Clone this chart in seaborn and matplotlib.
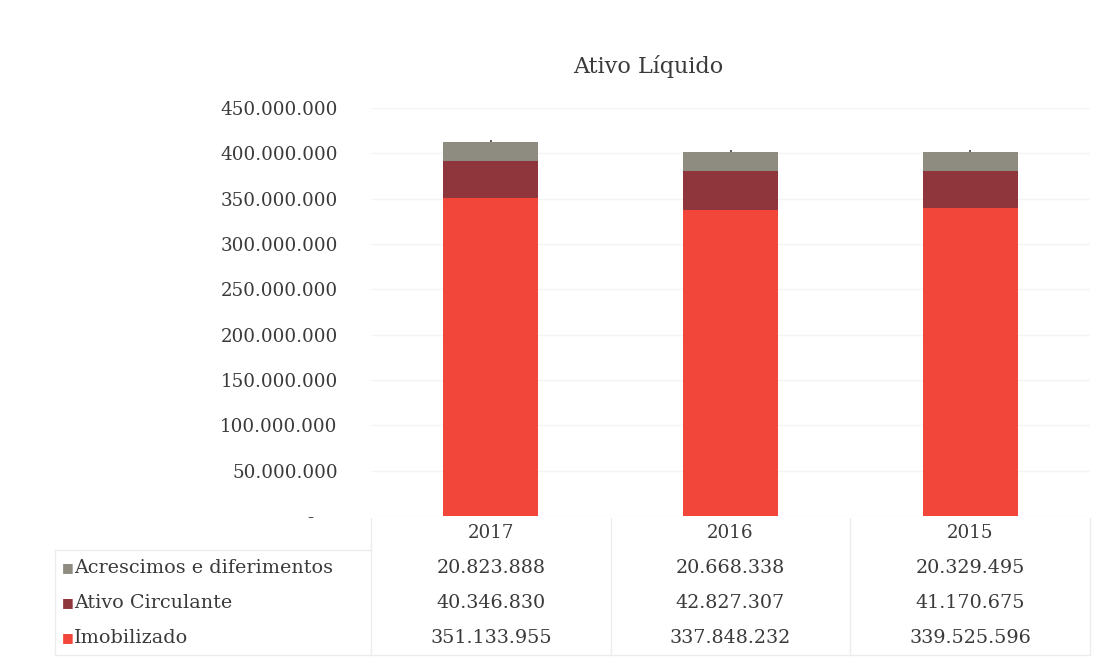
import matplotlib
matplotlib.use("Agg")
import matplotlib.pyplot as plt
import seaborn as sns
import pandas as pd
from matplotlib.ticker import FuncFormatter, MultipleLocator

# Balance data (values in R$)
years = ["2017", "2016", "2015"]
series_names = ["Acrescimos e diferimentos", "Ativo Circulante", "Imobilizado"]
acrescimos = [20823888, 20668338, 20329495]
ativo_circulante = [40346830, 42827307, 41170675]
imobilizado = [351133955, 337848232, 339525596]
title = "Ativo Líquido"

colors = {
    "Imobilizado": "#f2463a",
    "Ativo Circulante": "#8f363d",
    "Acrescimos e diferimentos": "#8e8b80",
}

sns.set_theme(style="white")
plt.rcParams["font.family"] = ["DejaVu Serif", "DejaVu Sans"]
text_color = "#3a3a3a"

W, H = 1103, 666
fig = plt.figure(figsize=(W / 100, H / 100), dpi=100)
fig.patch.set_facecolor("white")

# axes spans the three table columns
ax_left, ax_right = 371 / W, 1090 / W
ax_bottom, ax_top = 1 - 516 / H, 1 - 108 / H
ax = fig.add_axes([ax_left, ax_bottom, ax_right - ax_left, ax_top - ax_bottom])

df = pd.DataFrame({
    "ano": years,
    "Imobilizado": imobilizado,
    "Ativo Circulante": ativo_circulante,
    "Acrescimos e diferimentos": acrescimos,
})

bottom = [0] * len(years)
for name in ["Imobilizado", "Ativo Circulante", "Acrescimos e diferimentos"]:
    sns.barplot(data=df, x="ano", y=name, bottom=bottom, color=colors[name],
                width=0.395, ax=ax, saturation=1, linewidth=0, errorbar=None)
    bottom = [b + v for b, v in zip(bottom, df[name])]

# small mark on top of each stack
totals = bottom
ax.vlines(range(len(years)), [t for t in totals], [t + 2.5e6 for t in totals],
          color="#444444", linewidth=1.2)

ax.set_ylim(0, 450_000_000)
ax.set_xlim(-0.5, len(years) - 0.5)
ax.yaxis.set_major_locator(MultipleLocator(50_000_000))


def fmt(v, _pos=None):
    if v == 0:
        return "-"
    return f"{int(round(v)):,}".replace(",", ".")


def tick_fmt(v, _pos=None):
    if v == 0:
        return "-    "
    return fmt(v)


ax.yaxis.set_major_formatter(FuncFormatter(tick_fmt))
ax.tick_params(axis="y", length=0, pad=24, labelsize=13.2, labelcolor=text_color)
ax.set_xticks([])
ax.set_xlabel("")
ax.set_ylabel("")
ax.grid(axis="y", color="#f4f4f4", linewidth=1)
ax.set_axisbelow(True)
for s in ax.spines.values():
    s.set_visible(False)

fig.text(648 / W, 1 - 66 / H, title, ha="center", va="center",
         fontsize=16, color=text_color)

# data table under the bars
col_x = [ax_left + (ax_right - ax_left) * (i + 0.5) / len(years) for i in range(len(years))]
row_y = [1 - 533 / H, 1 - 568 / H, 1 - 603 / H, 1 - 638 / H]
for x, yr in zip(col_x, years):
    fig.text(x, row_y[0], yr, ha="center", va="center", fontsize=13.2, color=text_color)

rows = [
    ("Acrescimos e diferimentos", acrescimos),
    ("Ativo Circulante", ativo_circulante),
    ("Imobilizado", imobilizado),
]
for (name, vals), y in zip(rows, row_y[1:]):
    fig.text(62 / W, y, "■", ha="left", va="center", fontsize=9, color=colors[name])
    fig.text(74 / W, y, name, ha="left", va="center", fontsize=13.8, color=text_color)
    for x, v in zip(col_x, vals):
        fig.text(x, y, fmt(v), ha="center", va="center", fontsize=13.8, color=text_color)

# faint table grid
line_kw = dict(color="#ececec", linewidth=1, transform=fig.transFigure)
for i in range(len(years) + 1):
    x = ax_left + (ax_right - ax_left) * i / len(years)
    fig.add_artist(plt.Line2D([x, x], [1 - 518 / H, 1 - 655 / H], **line_kw))
fig.add_artist(plt.Line2D([55 / W, ax_right], [1 - 655 / H, 1 - 655 / H], **line_kw))
fig.add_artist(plt.Line2D([55 / W, ax_left], [1 - 550 / H, 1 - 550 / H], **line_kw))
fig.add_artist(plt.Line2D([55 / W, 55 / W], [1 - 550 / H, 1 - 655 / H], **line_kw))

fig.savefig("out.png", dpi=100, facecolor="white")
